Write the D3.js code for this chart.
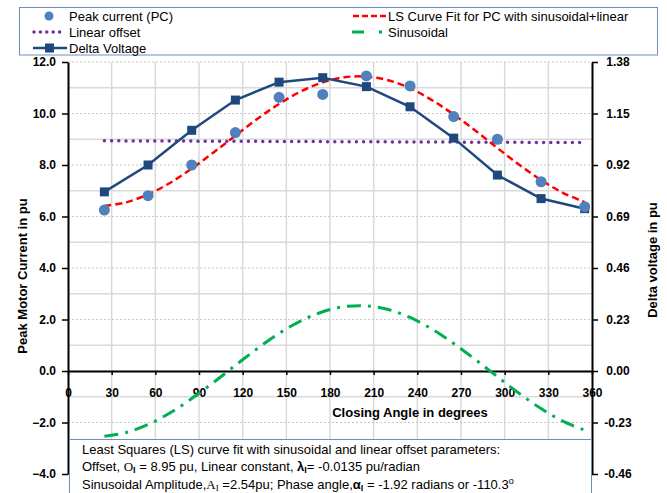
<!DOCTYPE html>
<html>
<head>
<meta charset="utf-8">
<script src="https://cdn.jsdelivr.net/npm/d3@7"></script>
<style>
    body { margin: 0; background: #fff; }
    svg { font-family: "Liberation Sans", Arial, sans-serif; }
</style>
</head>
<body>
<script>
    // measured points (closing angle in degrees)
    var angles = [25, 55, 85, 115, 145, 175, 205, 235, 265, 295, 325, 355];
    var peakCurrent = [6.25, 6.81, 8.0, 9.26, 10.63, 10.74, 11.46, 11.07, 9.88, 9.0, 7.35, 6.38];
    var deltaVoltage = [0.80, 0.92, 1.075, 1.21, 1.29, 1.31, 1.27, 1.18, 1.04, 0.875, 0.77, 0.725];

    // curves
    var curveAngles = [25, 40, 55, 70, 85, 100, 115, 130, 145, 160, 175, 190, 205, 220, 235, 250, 265, 280, 295, 310, 325, 340, 355];
    var fitCurrent = [6.41, 6.55, 6.86, 7.30, 7.86, 8.49, 9.14, 9.79, 10.37, 10.86, 11.21, 11.41, 11.43, 11.29, 10.98, 10.52, 9.96, 9.33, 8.66, 8.01, 7.42, 6.92, 6.56];
    var sinusoidal = [-2.53, -2.39, -2.08, -1.63, -1.07, -0.44, 0.22, 0.87, 1.46, 1.95, 2.30, 2.50, 2.53, 2.39, 2.08, 1.63, 1.07, 0.44, -0.22, -0.87, -1.46, -1.95, -2.30];
    var offsetAngles = [25, 355];
    var linearOffset = [8.94, 8.87];

    // tick labels
    var xTicks = [0, 30, 60, 90, 120, 150, 180, 210, 240, 270, 300, 330, 360];
    var leftTicks = [-4, -2, 0, 2, 4, 6, 8, 10, 12];
    var rightTicks = ['-0.46', '-0.23', '0.00', '0.23', '0.46', '0.69', '0.92', '1.15', '1.38'];

    var width = 667, height = 493;
    var svg = d3.select('body').append('svg')
        .attr('width', width)
        .attr('height', height);

    var margin = { top: 62, right: 75, bottom: 19, left: 68 };
    var x = d3.scaleLinear().domain([0, 360]).range([margin.left, width - margin.right]);
    var y = d3.scaleLinear().domain([-4, 12]).range([height - margin.bottom, margin.top]);
    var yRight = d3.scaleLinear().domain([-0.46, 1.38]).range([height - margin.bottom, margin.top]);

    var plotTop = margin.top, plotBottom = height - margin.bottom;

    // gridlines
    var grid = svg.append('g');
    grid.selectAll('.vgrid').data(xTicks.slice(1, -1)).enter().append('line')
        .attr('x1', function (d) { return x(d); }).attr('x2', function (d) { return x(d); })
        .attr('y1', plotTop).attr('y2', plotBottom)
        .attr('stroke', '#d9d9d9').attr('stroke-width', 1.5);
    grid.selectAll('.minor').data(d3.range(-3, 12, 2)).enter().append('line')
        .attr('x1', x(0)).attr('x2', x(360))
        .attr('y1', function (d) { return y(d); }).attr('y2', function (d) { return y(d); })
        .attr('stroke', '#d9d9d9').attr('stroke-width', 1.5);
    grid.selectAll('.major').data(leftTicks).enter().append('line')
        .attr('x1', x(0)).attr('x2', x(360))
        .attr('y1', function (d) { return y(d); }).attr('y2', function (d) { return y(d); })
        .attr('stroke', '#c8c8c8').attr('stroke-width', 1).attr('stroke-dasharray', '2,2');

    // axes
    var styleAxis = function (g) {
        g.select('.domain').attr('stroke', '#000').attr('stroke-width', 2);
        g.selectAll('.tick line').attr('stroke', '#000').attr('stroke-width', 1.5);
        g.selectAll('.tick text').attr('fill', '#000')
            .style('font-size', '12px').style('font-weight', 'bold');
    };

    svg.append('g')
        .attr('transform', 'translate(0,' + y(0) + ')')
        .call(d3.axisBottom(x).tickValues(xTicks).tickSize(4).tickSizeOuter(0).tickPadding(13))
        .call(styleAxis);

    svg.append('g')
        .attr('transform', 'translate(' + x(0) + ',0)')
        .call(d3.axisLeft(y).tickValues(leftTicks).tickFormat(d3.format('.1f'))
            .tickSize(6).tickSizeOuter(0).tickPadding(6))
        .call(styleAxis);

    var rightAxis = svg.append('g')
        .attr('transform', 'translate(' + x(360) + ',0)')
        .call(d3.axisRight(yRight).tickValues(rightTicks.map(Number))
            .tickFormat(function (d, i) { return rightTicks[i]; })
            .tickSize(6).tickSizeOuter(0).tickPadding(6))
        .call(styleAxis);
    rightAxis.selectAll('.tick text').attr('text-anchor', 'middle').attr('x', 26);

    // axis titles
    svg.append('text')
        .attr('transform', 'translate(22,' + 276 + ') rotate(-90)')
        .attr('text-anchor', 'middle').attr('dy', '0.35em')
        .style('font-size', '13px').style('font-weight', 'bold')
        .text('Peak Motor Current in pu');
    svg.append('text')
        .attr('transform', 'translate(652,' + 260 + ') rotate(-90)')
        .attr('text-anchor', 'middle').attr('dy', '0.35em')
        .style('font-size', '13px').style('font-weight', 'bold')
        .text('Delta voltage in pu');
    svg.append('text')
        .attr('x', 410).attr('y', 412).attr('dy', '0.35em')
        .attr('text-anchor', 'middle')
        .style('font-size', '13px').style('font-weight', 'bold')
        .text('Closing Angle in degrees');

    // series
    var lineLeft = function (xs, ys) {
        return d3.line()
            .x(function (d, i) { return x(xs[i]); })
            .y(function (d) { return y(d); })
            .curve(d3.curveCatmullRom)(ys);
    };

    svg.append('path')
        .attr('d', lineLeft(curveAngles, sinusoidal))
        .attr('fill', 'none').attr('stroke', '#00b050').attr('stroke-width', 3)
        .attr('stroke-dasharray', '14,7,3,7');

    svg.append('path')
        .attr('d', lineLeft(offsetAngles, linearOffset))
        .attr('fill', 'none').attr('stroke', '#7030a0').attr('stroke-width', 3.5)
        .attr('stroke-linecap', 'round').attr('stroke-dasharray', '0,7.2');

    svg.append('path')
        .attr('d', lineLeft(curveAngles, fitCurrent))
        .attr('fill', 'none').attr('stroke', '#ff0000').attr('stroke-width', 2.5)
        .attr('stroke-dasharray', '7,4');

    svg.append('path')
        .attr('d', d3.line()
            .x(function (d, i) { return x(angles[i]); })
            .y(function (d) { return yRight(d); })(deltaVoltage))
        .attr('fill', 'none').attr('stroke', '#1f497d').attr('stroke-width', 2.5);

    svg.selectAll('.sq').data(deltaVoltage).enter().append('rect')
        .attr('x', function (d, i) { return x(angles[i]) - 4.5; })
        .attr('y', function (d) { return yRight(d) - 4.5; })
        .attr('width', 9).attr('height', 9)
        .attr('fill', '#1f497d');

    svg.selectAll('.pc').data(peakCurrent).enter().append('circle')
        .attr('cx', function (d, i) { return x(angles[i]); })
        .attr('cy', function (d) { return y(d); })
        .attr('r', 5.5)
        .attr('fill', '#4f81bd');

    // legend
    var legend = svg.append('g').style('font-size', '13px');
    legend.append('rect')
        .attr('x', 19.5).attr('y', 7.5).attr('width', 638).attr('height', 47.5)
        .attr('fill', '#fff').attr('stroke', '#6f8fbf').attr('stroke-width', 1);

    legend.append('circle').attr('cx', 49).attr('cy', 16).attr('r', 4.5).attr('fill', '#4f81bd');
    legend.append('line').attr('x1', 34).attr('x2', 66).attr('y1', 32).attr('y2', 32)
        .attr('stroke', '#7030a0').attr('stroke-width', 3.5)
        .attr('stroke-linecap', 'round').attr('stroke-dasharray', '0,6.4');
    legend.append('line').attr('x1', 33).attr('x2', 67).attr('y1', 48).attr('y2', 48)
        .attr('stroke', '#1f497d').attr('stroke-width', 2.5);
    legend.append('rect').attr('x', 45).attr('y', 43.5).attr('width', 9).attr('height', 9)
        .attr('fill', '#1f497d');
    legend.append('line').attr('x1', 353).attr('x2', 387).attr('y1', 16).attr('y2', 16)
        .attr('stroke', '#ff0000').attr('stroke-width', 2.5).attr('stroke-dasharray', '6,3');
    legend.append('line').attr('x1', 352).attr('x2', 385).attr('y1', 32).attr('y2', 32)
        .attr('stroke', '#00b050').attr('stroke-width', 3).attr('stroke-dasharray', '12,15,3,20');

    var legendText = [
        { x: 69, y: 16, t: 'Peak current (PC)' },
        { x: 69, y: 32, t: 'Linear offset' },
        { x: 69, y: 48, t: 'Delta Voltage' },
        { x: 388, y: 16, t: 'LS Curve Fit for PC with sinusoidal+linear' },
        { x: 388, y: 32, t: 'Sinusoidal' }
    ];
    legend.selectAll('.lt').data(legendText).enter().append('text')
        .attr('x', function (d) { return d.x; })
        .attr('y', function (d) { return d.y; })
        .attr('dy', '0.35em')
        .text(function (d) { return d.t; });

    // text box with fit parameters
    var box = svg.append('g').style('font-size', '13px');
    box.append('rect')
        .attr('x', 69.5).attr('y', 439.5).attr('width', 522).attr('height', 70)
        .attr('fill', '#fff').attr('stroke', '#6f8fbf').attr('stroke-width', 1);

    var line1 = box.append('text').attr('x', 82).attr('y', 453.5);
    line1.text('Least Squares (LS) curve fit with sinusoidal and linear offset parameters:');

    var line2 = box.append('text').attr('x', 82).attr('y', 471);
    line2.append('tspan').text('Offset, ');
    line2.append('tspan').style('font-family', '"Liberation Serif", serif').text('O');
    line2.append('tspan').attr('dy', 2).style('font-size', '9px').style('font-weight', 'bold').text('I');
    line2.append('tspan').attr('dy', -2).text(' = 8.95 pu, Linear constant, ');
    line2.append('tspan').style('font-weight', 'bold').text('λ');
    line2.append('tspan').attr('dy', 2).style('font-size', '9px').style('font-weight', 'bold').text('I');
    line2.append('tspan').attr('dy', -2).text('= -0.0135 pu/radian');

    var line3 = box.append('text').attr('x', 82).attr('y', 488.5);
    line3.append('tspan').text('Sinusoidal Amplitude,');
    line3.append('tspan').style('font-family', '"Liberation Serif", serif').text('A');
    line3.append('tspan').attr('dy', 2).style('font-size', '9px').style('font-family', '"Liberation Serif", serif').text('I');
    line3.append('tspan').attr('dy', -2).text(' =2.54pu; Phase angle,');
    line3.append('tspan').style('font-weight', 'bold').text('α');
    line3.append('tspan').attr('dy', 2).style('font-size', '9px').style('font-weight', 'bold').text('I');
    line3.append('tspan').attr('dy', -2).text(' = -1.92 radians or -110.3');
    line3.append('tspan').attr('dy', -5).style('font-size', '9px').text('o');
</script>
</body>
</html>
